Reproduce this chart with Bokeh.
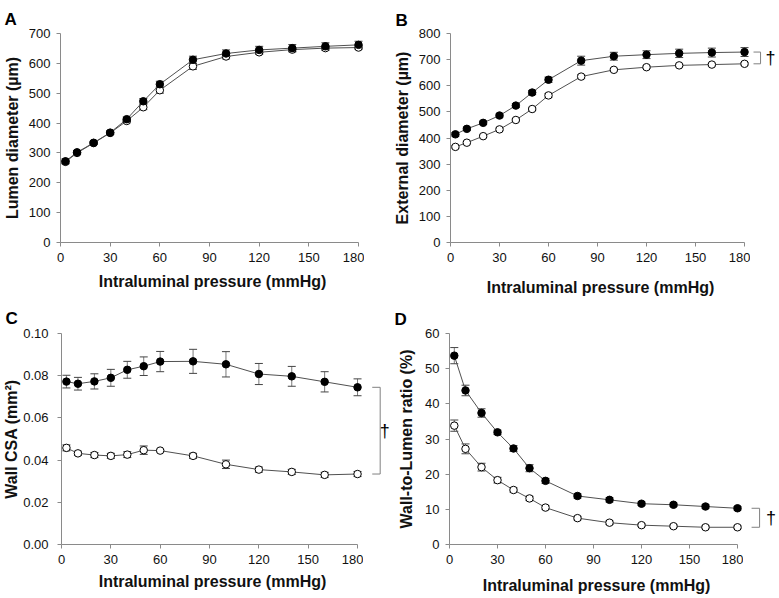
from bokeh.plotting import figure
from bokeh.models import (FixedTicker, Whisker, TeeHead, ColumnDataSource, Title,
                          PrintfTickFormatter, Range1d, Spacer)
from bokeh.layouts import row, column
from bokeh.embed import file_html
from bokeh.resources import INLINE
from bokeh.core.properties import value

# ---------------- data ----------------
pressure = [3, 10, 20, 30, 40, 50, 60, 80, 100, 120, 140, 160, 180]
x_ticks = [0, 30, 60, 90, 120, 150, 180]

# A: lumen diameter (um)
lumen_filled = [272, 302, 334, 368, 413, 473, 530, 612, 633, 645, 651, 657, 662]
lumen_filled_err = [8, 6, 5, 6, 7, 9, 10, 12, 12, 12, 12, 12, 12]
lumen_open = [270, 300, 333, 367, 407, 453, 510, 590, 623, 637, 646, 651, 653]
lumen_open_err = [6, 5, 5, 5, 6, 8, 10, 10, 8, 7, 7, 7, 6]
lumen_ticks = [0, 100, 200, 300, 400, 500, 600, 700]

# B: external diameter (um)
ext_filled = [414, 435, 458, 486, 524, 574, 623, 696, 713, 719, 724, 727, 729]
ext_filled_err = [7, 6, 6, 6, 7, 8, 10, 17, 15, 15, 16, 17, 17]
ext_open = [366, 382, 407, 433, 469, 511, 563, 635, 661, 671, 678, 681, 684]
ext_open_err = [5, 5, 5, 5, 5, 6, 7, 7, 5, 5, 5, 5, 5]
ext_ticks = [0, 100, 200, 300, 400, 500, 600, 700, 800]

# C: wall CSA (mm2)
csa_filled = [0.0772, 0.0762, 0.0773, 0.0790, 0.0828, 0.0845, 0.0867, 0.0868,
              0.0854, 0.0808, 0.0797, 0.0771, 0.0745]
csa_filled_err = [0.0030, 0.0030, 0.0036, 0.0040, 0.0040, 0.0044, 0.0048, 0.0057,
                  0.0060, 0.0050, 0.0047, 0.0048, 0.0040]
csa_open = [0.0458, 0.0432, 0.0424, 0.0420, 0.0426, 0.0447, 0.0445, 0.0420,
            0.0380, 0.0355, 0.0344, 0.0330, 0.0334]
csa_open_err = [0.0014, 0.0010, 0.0012, 0.0012, 0.0014, 0.0020, 0.0006, 0.0012,
                0.0020, 0.0012, 0.0012, 0.0012, 0.0012]
csa_ticks = [0.0, 0.02, 0.04, 0.06, 0.08, 0.10]

# D: wall-to-lumen ratio (%)
wl_filled = [53.7, 43.8, 37.4, 31.9, 27.3, 21.7, 18.1, 13.8, 12.7, 11.6, 11.3, 10.8, 10.3]
wl_filled_err = [2.3, 1.5, 1.2, 0.6, 0.8, 1.0, 0.7, 0.6, 0.6, 0.5, 0.5, 0.5, 0.5]
wl_open = [33.8, 27.2, 22.0, 18.3, 15.5, 13.1, 10.5, 7.5, 6.2, 5.5, 5.2, 4.9, 4.9]
wl_open_err = [1.6, 1.4, 1.1, 0.8, 0.6, 0.6, 0.5, 0.5, 0.5, 0.4, 0.4, 0.4, 0.4]
wl_ticks = [0, 10, 20, 30, 40, 50, 60]

FONT = "Liberation Sans"
AX = "#8a8a8a"
PAD = 6  # px of frame to the right of x = 180


def add_series(p, vals, errs, filled):
    src = ColumnDataSource(dict(
        x=pressure, y=vals,
        upper=[v + e for v, e in zip(vals, errs)],
        lower=[v - e for v, e in zip(vals, errs)]))
    w = Whisker(source=src, base="x", upper="upper", lower="lower",
                line_color="#7a7a7a", line_width=1,
                upper_head=TeeHead(size=8, line_color="#444444", line_width=1),
                lower_head=TeeHead(size=8, line_color="#444444", line_width=1))
    p.add_layout(w)
    p.line("x", "y", source=src, line_color="#505050", line_width=1)
    p.scatter("x", "y", source=src, marker="circle", size=7.5,
              fill_color="black" if filled else "white",
              line_color="black", line_width=1)


def panel(letter, ylabel, yticks, ymax, W, H, x0, x180, y0, ytop, tstand,
          filled, filled_err, open_, open_err, xstand, ystand, lstand, fmt=None,
          bracket=None, letter_x=3):
    s = (x180 - x0) / 180.0          # px per data unit
    main_w = int(x180 + PAD)
    top_b = int(round(ytop))
    bot_b = int(round(H - y0))
    yr = Range1d(0, ymax)
    title = Title(text=letter, align="left", offset=letter_x - x0, standoff=tstand,
                  text_font=FONT, text_font_style="bold", text_font_size="17px",
                  text_color="black")
    p = figure(width=main_w, height=H, x_range=Range1d(0, 180 + PAD / s), y_range=yr,
               output_backend="svg", toolbar_location=None, title=title,
               min_border_left=int(round(x0)), min_border_right=0,
               min_border_top=top_b, min_border_bottom=bot_b)
    p.outline_line_color = None
    p.grid.visible = False
    p.background_fill_color = "white"
    p.border_fill_color = "white"

    add_series(p, open_, open_err, False)
    add_series(p, filled, filled_err, True)

    p.xaxis.ticker = FixedTicker(ticks=x_ticks)
    p.yaxis.ticker = FixedTicker(ticks=yticks)
    if fmt is not None:
        p.yaxis.formatter = fmt
    p.xaxis.bounds = (0, 180)
    p.yaxis.bounds = (0, ymax)
    p.axis.minor_tick_line_color = None
    p.axis.major_tick_in = 0
    p.axis.major_tick_out = 4
    p.axis.axis_line_color = AX
    p.axis.major_tick_line_color = AX
    p.axis.major_label_text_font = FONT
    p.axis.major_label_text_font_size = "13px"
    p.axis.major_label_text_color = "#111111"
    p.axis.axis_label_text_font = FONT
    p.axis.axis_label_text_font_style = "bold"
    p.axis.axis_label_text_font_size = "16px"
    p.axis.axis_label_text_color = "#111111"
    p.xaxis.major_label_standoff = 6
    p.yaxis.major_label_standoff = lstand
    p.xaxis.axis_label = "Intraluminal pressure (mmHg)"
    p.yaxis.axis_label = ylabel
    p.xaxis.axis_label_standoff = xstand
    p.yaxis.axis_label_standoff = ystand

    side_w = W - main_w
    if bracket is None:
        side = Spacer(width=side_w, height=H)
    else:
        q = figure(width=side_w, height=H,
                   x_range=Range1d(180 + PAD / s, (W - x0) / s), y_range=yr,
                   x_axis_type=None, y_axis_type=None,
                   output_backend="svg", toolbar_location=None,
                   min_border_left=0, min_border_right=0,
                   min_border_top=top_b, min_border_bottom=bot_b)
        q.outline_line_color = None
        q.grid.visible = False
        q.background_fill_color = "white"
        q.border_fill_color = "white"
        bx0, bx1, dx = bracket
        top = filled[-1]
        bot = open_[-1]
        q.line([bx0, bx1, bx1, bx0], [top, top, bot, bot], line_color="#808080", line_width=1)
        q.text([dx], [(top + bot) / 2.0], text=["\u2020"], text_font=value(FONT),
               text_font_size="18px", text_align="center", text_baseline="middle",
               text_color="black")
        side = q
    return [p, side]


pa = panel("A", "Lumen diameter (\u00b5m)", lumen_ticks, 700, 390, 300,
           59, 358, 242, 33, 10, lumen_filled, lumen_filled_err, lumen_open, lumen_open_err,
           xstand=8, ystand=5, lstand=6, letter_x=3)
pb = panel("B", "External diameter (\u00b5m)", ext_ticks, 800, 389, 300,
           59, 354, 242, 30, 7, ext_filled, ext_filled_err, ext_open, ext_open_err,
           xstand=14, ystand=5, lstand=6, bracket=(185.5, 189.8, 195.9), letter_x=4)
pc = panel("C", "Wall CSA (mm\u00b2)", csa_ticks, 0.10, 390, 298,
           59, 357, 244, 33, 12, csa_filled, csa_filled_err, csa_open, csa_open_err,
           xstand=6, ystand=0, lstand=9, fmt=PrintfTickFormatter(format="%.2f"),
           bracket=(188.9, 193.7, 196.5), letter_x=3)
pd = panel("D", "Wall-to-Lumen ratio (%)", wl_ticks, 60, 389, 298,
           59, 347, 244, 32, 10, wl_filled, wl_filled_err, wl_open, wl_open_err,
           xstand=10, ystand=7, lstand=6, bracket=(188.8, 193.8, 200.9), letter_x=4)

layout = column(row(*pa, *pb, spacing=0), row(*pc, *pd, spacing=0), spacing=0)
open("out.html", "w").write(file_html(layout, INLINE))
